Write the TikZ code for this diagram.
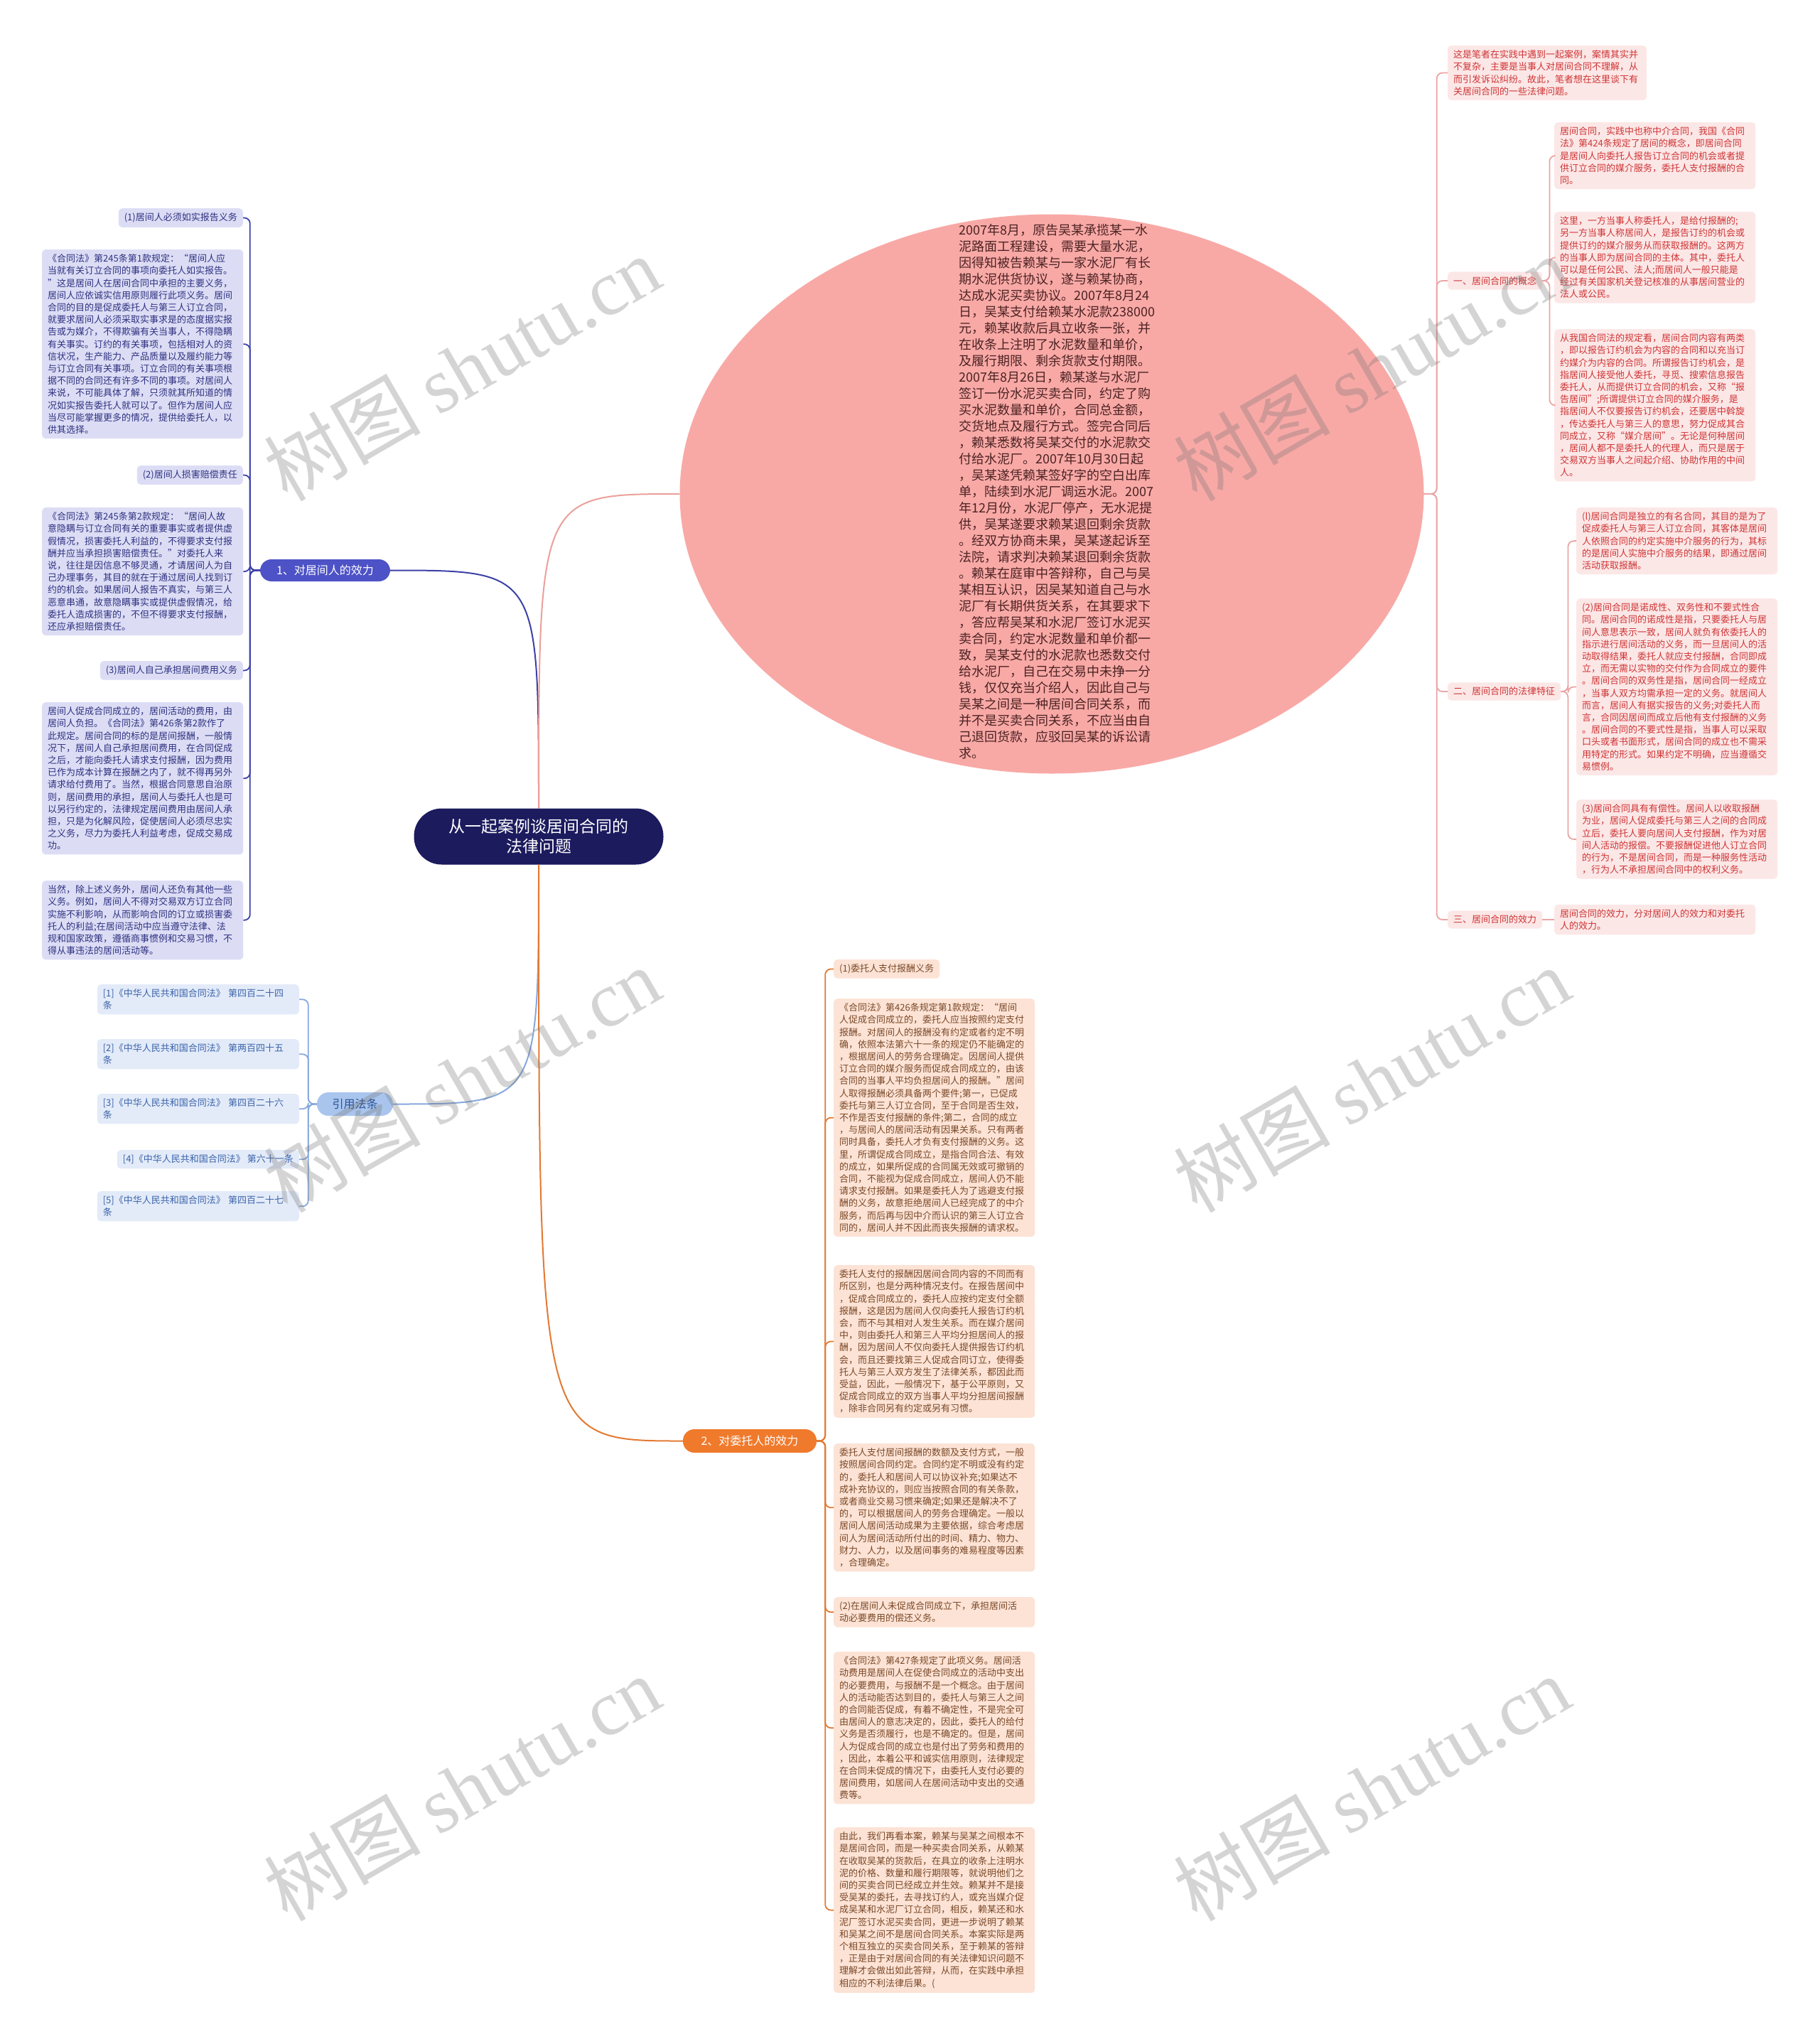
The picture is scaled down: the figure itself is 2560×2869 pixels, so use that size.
\documentclass[tikz,border=0pt]{standalone}
\usepackage{fontspec}
\newfontfamily\cjk{Noto Sans CJK SC}
\newfontfamily\wmlat{Liberation Serif}
\usetikzlibrary{shapes.geometric}
\definecolor{rootc}{HTML}{1C1B5E}
\definecolor{bluep}{HTML}{4D52C6}
\definecolor{bline}{HTML}{3D41A8}
\definecolor{lfill}{HTML}{DCDDF5}
\definecolor{ltext}{HTML}{2F3180}
\definecolor{citep}{HTML}{A9C5EE}
\definecolor{citept}{HTML}{2A5197}
\definecolor{citefill}{HTML}{E3EBF9}
\definecolor{citetext}{HTML}{3B63A9}
\definecolor{citeline}{HTML}{86A8DE}
\definecolor{ellc}{HTML}{F8A9A6}
\definecolor{elltext}{HTML}{4B2222}
\definecolor{ellline}{HTML}{EBA09A}
\definecolor{rfill}{HTML}{FCE7E7}
\definecolor{rtext}{HTML}{CF3434}
\definecolor{rline}{HTML}{EAA5A5}
\definecolor{orp}{HTML}{F07A2C}
\definecolor{orline}{HTML}{E37932}
\definecolor{ofill}{HTML}{FCE3D5}
\definecolor{otext}{HTML}{7A4828}
\begin{document}
\begin{tikzpicture}[x=1pt,y=-1pt,
  every node/.style={inner sep=0pt},
  box/.style={rounded corners=5pt, inner xsep=8pt, inner ysep=6.5pt, font=\cjk\fontsize{13}{17.2}\selectfont, align=left},
  wbox/.style={box, text width=267pt},
  lb/.style={fill=lfill, text=ltext},
  cb/.style={fill=citefill, text=citetext},
  rb/.style={fill=rfill, text=rtext},
  ob/.style={fill=ofill, text=otext},
  pill/.style={rounded corners=16pt, text=white, font=\cjk\fontsize{16}{20}\selectfont},
  con/.style={line width=1.8pt, rounded corners=8pt},
  rootcon/.style={line width=2pt},
  wm/.style={text=black!55, opacity=0.3, rotate=30, font=\cjk\fontsize{110}{120}\selectfont}
]
\path[use as bounding box, fill=white] (0,0) rectangle (2560,2869);

% root
\node[fill=rootc, text=white, rounded corners=39pt, minimum width=351pt, minimum height=79pt, align=center, font=\cjk\fontsize{23}{28}\selectfont] (root) at (758,1177) {从一起案例谈居间合同的\\法律问题};

% first level
\node[pill, fill=bluep, minimum width=183pt, minimum height=31pt] (b1) at (457.5,802.5) {1、对居间人的效力};
\node[pill, fill=citep, text=citept, minimum width=107pt, minimum height=33pt] (cite) at (499.5,1553.5) {引用法条};
\node[pill, fill=orp, minimum width=188pt, minimum height=33pt] (b2) at (1055,2027.5) {2、对委托人的效力};
\node[ellipse, fill=ellc, minimum width=1047pt, minimum height=787pt] (case) at (1480,695) {};
\node[anchor=north west, text width=275pt, align=left, text=elltext, font=\cjk\fontsize{18}{23}\selectfont] (casetext) at (1349,315) {2007年8月，原告吴某承揽某一水\\泥路面工程建设，需要大量水泥，\\因得知被告赖某与一家水泥厂有长\\期水泥供货协议，遂与赖某协商，\\达成水泥买卖协议。2007年8月24\\日，吴某支付给赖某水泥款238000\\元，赖某收款后具立收条一张，并\\在收条上注明了水泥数量和单价，\\及履行期限、剩余货款支付期限。\\2007年8月26日，赖某遂与水泥厂\\签订一份水泥买卖合同，约定了购\\买水泥数量和单价，合同总金额，\\交货地点及履行方式。签完合同后\\，赖某悉数将吴某交付的水泥款交\\付给水泥厂。2007年10月30日起\\，吴某遂凭赖某签好字的空白出库\\单，陆续到水泥厂调运水泥。2007\\年12月份，水泥厂停产，无水泥提\\供，吴某遂要求赖某退回剩余货款\\。经双方协商未果，吴某遂起诉至\\法院，请求判决赖某退回剩余货款\\。赖某在庭审中答辩称，自己与吴\\某相互认识，因吴某知道自己与水\\泥厂有长期供货关系，在其要求下\\，答应帮吴某和水泥厂签订水泥买\\卖合同，约定水泥数量和单价都一\\致，吴某支付的水泥款也悉数交付\\给水泥厂，自己在交易中未挣一分\\钱，仅仅充当介绍人，因此自己与\\吴某之间是一种居间合同关系，而\\并不是买卖合同关系，不应当由自\\己退回货款，应驳回吴某的诉讼请\\求。};

% left children
\node[box, lb, anchor=north east] (ll1) at (342,293) {(1)居间人必须如实报告义务};
\node[wbox, lb, anchor=north west] (l1) at (59,351) {《合同法》第245条第1款规定：“居间人应\\当就有关订立合同的事项向委托人如实报告。\\”这是居间人在居间合同中承担的主要义务，\\居间人应依诚实信用原则履行此项义务。居间\\合同的目的是促成委托人与第三人订立合同，\\就要求居间人必须采取实事求是的态度据实报\\告或为媒介，不得欺骗有关当事人，不得隐瞒\\有关事实。订约的有关事项，包括相对人的资\\信状况，生产能力、产品质量以及履约能力等\\与订立合同有关事项。订立合同的有关事项根\\据不同的合同还有许多不同的事项。对居间人\\来说，不可能具体了解，只须就其所知道的情\\况如实报告委托人就可以了。但作为居间人应\\当尽可能掌握更多的情况，提供给委托人，以\\供其选择。};
\node[box, lb, anchor=north east] (ll2) at (342,655) {(2)居间人损害赔偿责任};
\node[wbox, lb, anchor=north west] (l2) at (59,714) {《合同法》第245条第2款规定：“居间人故\\意隐瞒与订立合同有关的重要事实或者提供虚\\假情况，损害委托人利益的，不得要求支付报\\酬并应当承担损害赔偿责任。”对委托人来\\说，往往是因信息不够灵通，才请居间人为自\\己办理事务，其目的就在于通过居间人找到订\\约的机会。如果居间人报告不真实，与第三人\\恶意串通，故意隐瞒事实或提供虚假情况，给\\委托人造成损害的，不但不得要求支付报酬，\\还应承担赔偿责任。};
\node[box, lb, anchor=north east] (ll3) at (342,930) {(3)居间人自己承担居间费用义务};
\node[wbox, lb, anchor=north west] (l3) at (59,988) {居间人促成合同成立的，居间活动的费用，由\\居间人负担。《合同法》第426条第2款作了\\此规定。居间合同的标的是居间报酬，一般情\\况下，居间人自己承担居间费用，在合同促成\\之后，才能向委托人请求支付报酬，因为费用\\已作为成本计算在报酬之内了，就不得再另外\\请求给付费用了。当然，根据合同意思自治原\\则，居间费用的承担，居间人与委托人也是可\\以另行约定的，法律规定居间费用由居间人承\\担，只是为化解风险，促使居间人必须尽忠实\\之义务，尽力为委托人利益考虑，促成交易成\\功。};
\node[wbox, lb, anchor=north west] (l4) at (59,1239) {当然，除上述义务外，居间人还负有其他一些\\义务。例如，居间人不得对交易双方订立合同\\实施不利影响，从而影响合同的订立或损害委\\托人的利益;在居间活动中应当遵守法律、法\\规和国家政策，遵循商事惯例和交易习惯，不\\得从事违法的居间活动等。};

% citations
\node[box, cb, text width=268pt, anchor=north east] (c1) at (421,1385) {[1]《中华人民共和国合同法》 第四百二十四\\条};
\node[box, cb, text width=268pt, anchor=north east] (c2) at (421,1462) {[2]《中华人民共和国合同法》 第两百四十五\\条};
\node[box, cb, text width=268pt, anchor=north east] (c3) at (421,1539) {[3]《中华人民共和国合同法》 第四百二十六\\条};
\node[box, cb, anchor=north east] (c4) at (421,1618) {[4]《中华人民共和国合同法》 第六十一条};
\node[box, cb, text width=268pt, anchor=north east] (c5) at (421,1676) {[5]《中华人民共和国合同法》 第四百二十七\\条};

% right side
\node[box, rb, text width=264pt, anchor=north west] (note) at (2037,64) {这是笔者在实践中遇到一起案例，案情其实并\\不复杂，主要是当事人对居间合同不理解，从\\而引发诉讼纠纷。故此，笔者想在这里谈下有\\关居间合同的一些法律问题。};
\node[box, rb, anchor=west] (r1) at (2037,395) {一、居间合同的概念};
\node[box, rb, anchor=west] (r2) at (2037,973) {二、居间合同的法律特征};
\node[box, rb, anchor=west] (r3) at (2037,1294) {三、居间合同的效力};
\node[wbox, rb, anchor=north west] (ra) at (2187,172) {居间合同，实践中也称中介合同，我国《合同\\法》第424条规定了居间的概念，即居间合同\\是居间人向委托人报告订立合同的机会或者提\\供订立合同的媒介服务，委托人支付报酬的合\\同。};
\node[wbox, rb, anchor=north west] (rb2) at (2187,298) {这里，一方当事人称委托人，是给付报酬的;\\另一方当事人称居间人，是报告订约的机会或\\提供订约的媒介服务从而获取报酬的。这两方\\的当事人即为居间合同的主体。其中，委托人\\可以是任何公民、法人;而居间人一般只能是\\经过有关国家机关登记核准的从事居间营业的\\法人或公民。};
\node[wbox, rb, anchor=north west] (rc) at (2187,463) {从我国合同法的规定看，居间合同内容有两类\\，即以报告订约机会为内容的合同和以充当订\\约媒介为内容的合同。所谓报告订约机会，是\\指居间人接受他人委托，寻觅、搜索信息报告\\委托人，从而提供订立合同的机会，又称“报\\告居间”;所谓提供订立合同的媒介服务，是\\指居间人不仅要报告订约机会，还要居中斡旋\\，传达委托人与第三人的意思，努力促成其合\\同成立，又称“媒介居间”。无论是何种居间\\，居间人都不是委托人的代理人，而只是居于\\交易双方当事人之间起介绍、协助作用的中间\\人。};
\node[wbox, rb, anchor=north west] (rf1) at (2218,714) {(l)居间合同是独立的有名合同，其目的是为了\\促成委托人与第三人订立合同，其客体是居间\\人依照合同的约定实施中介服务的行为，其标\\的是居间人实施中介服务的结果，即通过居间\\活动获取报酬。};
\node[wbox, rb, anchor=north west] (rf2) at (2218,842) {(2)居间合同是诺成性、双务性和不要式性合\\同。居间合同的诺成性是指，只要委托人与居\\间人意思表示一致，居间人就负有依委托人的\\指示进行居间活动的义务，而一旦居间人的活\\动取得结果，委托人就应支付报酬，合同即成\\立，而无需以实物的交付作为合同成立的要件\\。居间合同的双务性是指，居间合同一经成立\\，当事人双方均需承担一定的义务。就居间人\\而言，居间人有据实报告的义务;对委托人而\\言，合同因居间而成立后他有支付报酬的义务\\。居间合同的不要式性是指，当事人可以采取\\口头或者书面形式，居间合同的成立也不需采\\用特定的形式。如果约定不明确，应当遵循交\\易惯例。};
\node[wbox, rb, anchor=north west] (rf3) at (2218,1125) {(3)居间合同具有有偿性。居间人以收取报酬\\为业，居间人促成委托与第三人之间的合同成\\立后，委托人要向居间人支付报酬，作为对居\\间人活动的报偿。不要报酬促进他人订立合同\\的行为，不是居间合同，而是一种服务性活动\\，行为人不承担居间合同中的权利义务。};
\node[wbox, rb, anchor=west] (rd) at (2187,1294) {居间合同的效力，分对居间人的效力和对委托\\人的效力。};

% bottom orange
\node[box, ob, anchor=north west] (o0) at (1173,1350) {(1)委托人支付报酬义务};
\node[wbox, ob, anchor=north west] (o1) at (1173,1405) {《合同法》第426条规定第1款规定：“居间\\人促成合同成立的，委托人应当按照约定支付\\报酬。对居间人的报酬没有约定或者约定不明\\确，依照本法第六十一条的规定仍不能确定的\\，根据居间人的劳务合理确定。因居间人提供\\订立合同的媒介服务而促成合同成立的，由该\\合同的当事人平均负担居间人的报酬。”居间\\人取得报酬必须具备两个要件;第一，已促成\\委托与第三人订立合同，至于合同是否生效，\\不作是否支付报酬的条件;第二，合同的成立\\，与居间人的居间活动有因果关系。只有两者\\同时具备，委托人才负有支付报酬的义务。这\\里，所谓促成合同成立，是指合同合法、有效\\的成立，如果所促成的合同属无效或可撤销的\\合同，不能视为促成合同成立，居间人仍不能\\请求支付报酬。如果是委托人为了逃避支付报\\酬的义务，故意拒绝居间人已经完成了的中介\\服务，而后再与因中介而认识的第三人订立合\\同的，居间人并不因此而丧失报酬的请求权。};
\node[wbox, ob, anchor=north west] (o2) at (1173,1780) {委托人支付的报酬因居间合同内容的不同而有\\所区别，也是分两种情况支付。在报告居间中\\，促成合同成立的，委托人应按约定支付全额\\报酬，这是因为居间人仅向委托人报告订约机\\会，而不与其相对人发生关系。而在媒介居间\\中，则由委托人和第三人平均分担居间人的报\\酬，因为居间人不仅向委托人提供报告订约机\\会，而且还要找第三人促成合同订立，使得委\\托人与第三人双方发生了法律关系，都因此而\\受益，因此，一般情况下，基于公平原则，又\\促成合同成立的双方当事人平均分担居间报酬\\，除非合同另有约定或另有习惯。};
\node[wbox, ob, anchor=north west] (o3) at (1173,2031) {委托人支付居间报酬的数额及支付方式，一般\\按照居间合同约定。合同约定不明或没有约定\\的，委托人和居间人可以协议补充;如果达不\\成补充协议的，则应当按照合同的有关条款，\\或者商业交易习惯来确定;如果还是解决不了\\的，可以根据居间人的劳务合理确定。一般以\\居间人居间活动成果为主要依据，综合考虑居\\间人为居间活动所付出的时间、精力、物力、\\财力、人力，以及居间事务的难易程度等因素\\，合理确定。};
\node[wbox, ob, anchor=north west] (o4) at (1173,2247) {(2)在居间人未促成合同成立下，承担居间活\\动必要费用的偿还义务。};
\node[wbox, ob, anchor=north west] (o5) at (1173,2324) {《合同法》第427条规定了此项义务。居间活\\动费用是居间人在促使合同成立的活动中支出\\的必要费用，与报酬不是一个概念。由于居间\\人的活动能否达到目的，委托人与第三人之间\\的合同能否促成，有着不确定性，不是完全可\\由居间人的意志决定的，因此，委托人的给付\\义务是否须履行，也是不确定的。但是，居间\\人为促成合同的成立也是付出了劳务和费用的\\，因此，本着公平和诚实信用原则，法律规定\\在合同未促成的情况下，由委托人支付必要的\\居间费用，如居间人在居间活动中支出的交通\\费等。};
\node[wbox, ob, anchor=north west] (o6) at (1173,2571) {由此，我们再看本案，赖某与吴某之间根本不\\是居间合同，而是一种买卖合同关系，从赖某\\在收取吴某的货款后，在具立的收条上注明水\\泥的价格、数量和履行期限等，就说明他们之\\间的买卖合同已经成立并生效。赖某并不是接\\受吴某的委托，去寻找订约人，或充当媒介促\\成吴某和水泥厂订立合同，相反，赖某还和水\\泥厂签订水泥买卖合同，更进一步说明了赖某\\和吴某之间不是居间合同关系。本案实际是两\\个相互独立的买卖合同关系，至于赖某的答辩\\，正是由于对居间合同的有关法律知识问题不\\理解才会做出如此答辩，从而，在实践中承担\\相应的不利法律后果。(};

% root connectors
\draw[rootcon, draw=bline] (root.north) .. controls (root.north |- b1.east) .. (b1.east);
\draw[rootcon, draw=ellline] (root.north) .. controls (root.north |- case.west) .. (case.west);
\draw[rootcon, draw=citeline] (root.south) .. controls (root.south |- cite.east) .. (cite.east);
\draw[rootcon, draw=orline] (root.south) .. controls (root.south |- b2.west) .. (b2.west);

% left connectors
\foreach \n in {ll1,l1,ll2,l2,ll3,l3,l4}
  \draw[con, draw=bline] (b1.west) -- ++(-14,0) |- (\n.east);
% citation connectors
\foreach \n in {c1,c2,c3,c4,c5}
  \draw[con, draw=citeline] (cite.west) -- ++(-12,0) |- (\n.east);
% right connectors
\foreach \n in {note,r1,r2,r3}
  \draw[con, draw=rline] (case.east) -- ++(18,0) |- (\n.west);
\foreach \n in {ra,rb2,rc}
  \draw[con, draw=rline] (r1.east) -- ++(10,0) |- (\n.west);
\foreach \n in {rf1,rf2,rf3}
  \draw[con, draw=rline] (r2.east) -- ++(10,0) |- (\n.west);
\draw[con, draw=rline] (r3.east) -- (rd.west);
% orange connectors
\foreach \n in {o0,o1,o2,o3,o4,o5,o6}
  \draw[con, draw=orline] (b2.east) -- ++(12,0) |- (\n.west);

% watermarks
\foreach \x/\y [count=\i] in {650/518,1930/518,650/1519,1930/1519,650/2516,1930/2516}
  \node[wm] (wm\i) at (\x,\y) {树图 {\wmlat shutu.cn}};
\end{tikzpicture}
\end{document}
